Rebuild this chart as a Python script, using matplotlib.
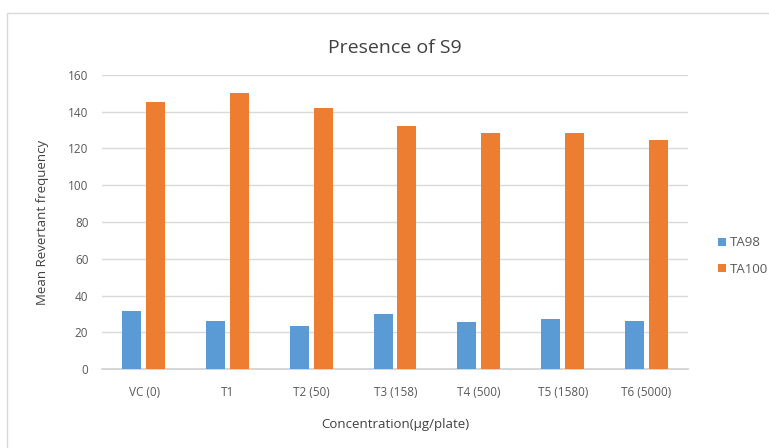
import matplotlib.pyplot as plt
import numpy as np
from matplotlib.patches import Rectangle

categories = ['VC (0)', 'T1', 'T2 (50)', 'T3 (158)', 'T4 (500)', 'T5 (1580)', 'T6 (5000)']
ta98 = [31.8, 26.2, 23.6, 29.8, 25.8, 27.4, 26.2]
ta100 = [145.2, 150.1, 141.9, 132.3, 128.5, 128.5, 124.5]

plt.rcParams['font.family'] = ['Open Sans', 'DejaVu Sans']

fig = plt.figure(figsize=(7.69, 4.48), dpi=100)
ax = fig.add_axes([0.133, 0.176, 0.762, 0.657])

# outer chart border like Excel
fig.patches.append(Rectangle((7 / 769, -0.1), 1.1, 1 - 13 / 448 + 0.1, transform=fig.transFigure,
                             fill=False, edgecolor='#d9d9d9', linewidth=1))

x = np.arange(len(categories))
w = 0.227
ax.bar(x - 0.145, ta98, w, color='#5b9bd5', label='TA98', zorder=3)
ax.bar(x + 0.14, ta100, w, color='#ed7d31', label='TA100', zorder=3)

ax.set_xlim(-0.5, len(categories) - 0.5)
ax.set_ylim(0, 160)
ax.set_yticks(range(0, 161, 20))
ax.set_xticks(x)
ax.set_xticklabels(categories)
ax.grid(axis='y', color='#d9d9d9', linewidth=1, zorder=0)
for s in ['top', 'right', 'left']:
    ax.spines[s].set_visible(False)
ax.spines['bottom'].set_color('#d0d0d0')
ax.spines['bottom'].set_linewidth(1.2)
ax.tick_params(length=0, labelsize=8.5, colors='#595959', pad=12)
ax.tick_params(axis='y', pad=10)

ax.set_title('Presence of S9', fontsize=14, color='#404040', pad=16)
ax.set_xlabel('Concentration(µg/plate)', fontsize=9.5, color='#404040', labelpad=14)
ax.set_ylabel('Mean Revertant frequency', fontsize=9.5, color='#404040', labelpad=14)

ax.legend(loc='center left', bbox_to_anchor=(706 / 769, 1 - 256 / 448), bbox_transform=fig.transFigure,
          frameon=False, fontsize=9.5, handlelength=0.6, handleheight=0.6, handletextpad=0.3,
          labelspacing=1.0, labelcolor='#595959')

fig.savefig('out.png', dpi=100)
